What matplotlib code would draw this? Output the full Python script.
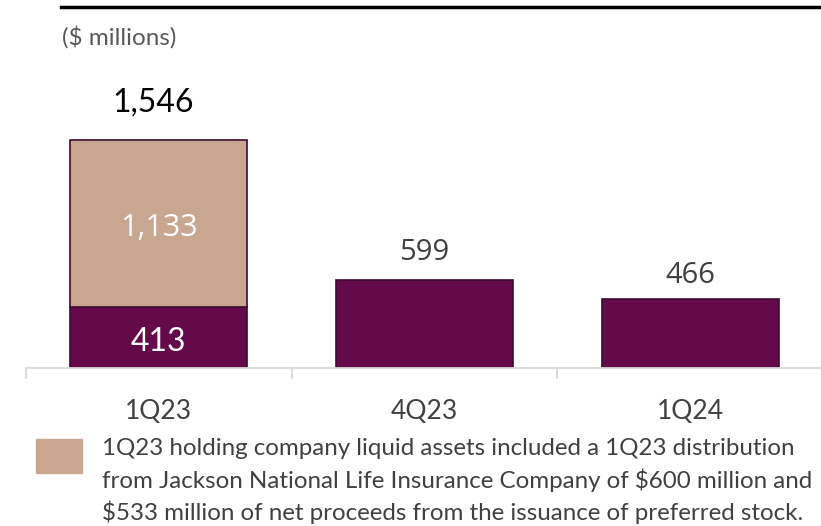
import matplotlib.pyplot as plt
from matplotlib.patches import Rectangle
from matplotlib.lines import Line2D

quarters = ['1Q23', '4Q23', '1Q24']
base_values = [413, 599, 466]
extra_values = [1133, 0, 0]
totals = [1546, 599, 466]

note_text = ('1Q23 holding company liquid assets included a 1Q23 distribution\n'
             'from Jackson National Life Insurance Company of $600 million and\n'
             '$533 million of net proceeds from the issuance of preferred stock.')

purple = '#640A4B'
tan = '#C9A690'
edge = '#3D0A30'
grey_text = '#404040'

plt.rcParams['font.family'] = ['Lato', 'DejaVu Sans']

W, H = 821, 526
fig = plt.figure(figsize=(W / 100, H / 100), dpi=100)
ax = fig.add_axes([26 / W, 158 / H, 797 / W, 268 / H])

x = list(range(len(quarters)))
ax.bar(x, base_values, width=0.665, color=purple, edgecolor=edge, linewidth=1.2)
ax.bar(x[0], extra_values[0], bottom=base_values[0], width=0.665,
       color=tan, edgecolor=edge, linewidth=1.2)

ax.set_xlim(-0.5, 2.5)
ax.set_ylim(0, 1817)

for side in ['left', 'right', 'top']:
    ax.spines[side].set_visible(False)
ax.spines['bottom'].set_color('#D9D9D9')
ax.spines['bottom'].set_linewidth(1.3)
ax.set_yticks([])
ax.set_xticks([-0.5, 0.5, 1.5, 2.5])
ax.set_xticklabels([])
ax.tick_params(axis='x', length=8, width=1.3, color='#D9D9D9')
for i, q in enumerate(quarters):
    ax.annotate(q, (i, 0), xytext=(0, -31), textcoords='offset points',
                ha='center', va='center', fontsize=19, color=grey_text)

# value labels
ax.annotate(f'{totals[0]:,}', (0, totals[0]), xytext=(-4, 27), textcoords='offset points',
            ha='center', va='center', fontsize=23, color='black')
ax.annotate(f'{extra_values[0]:,}', (0, base_values[0] + extra_values[0] / 2), xytext=(0, -3),
            textcoords='offset points', ha='center', va='center',
            fontsize=22, color='white', family=['Open Sans', 'DejaVu Sans'])
ax.annotate(f'{base_values[0]:,}', (0, base_values[0] / 2), xytext=(0, -3),
            textcoords='offset points', ha='center', va='center',
            fontsize=23, color='white')
label_offsets = {1: 19.5, 2: 17}
for i in [1, 2]:
    ax.annotate(f'{totals[i]:,}', (i, totals[i]), xytext=(0, label_offsets[i]),
                textcoords='offset points', ha='center', va='center', fontsize=21,
                color=grey_text, family=['Open Sans', 'DejaVu Sans'])

# top rule and unit note
fig.add_artist(Line2D([61 / W, 1], [1 - 7 / H, 1 - 7 / H], color='black', linewidth=2.5))
fig.text(62 / W, 1 - 37 / H, '($ millions)', ha='left', va='center', fontsize=17.5, color='#595959')

# footnote with swatch
fig.add_artist(Rectangle((36 / W, 1 - 473 / H), 46 / W, 34 / H, color=tan))
fig.text(102 / W, 1 - 481 / H, note_text, ha='left', va='center', fontsize=17.4,
         color=grey_text, linespacing=1.45)

fig.savefig('out.png', dpi=100)
